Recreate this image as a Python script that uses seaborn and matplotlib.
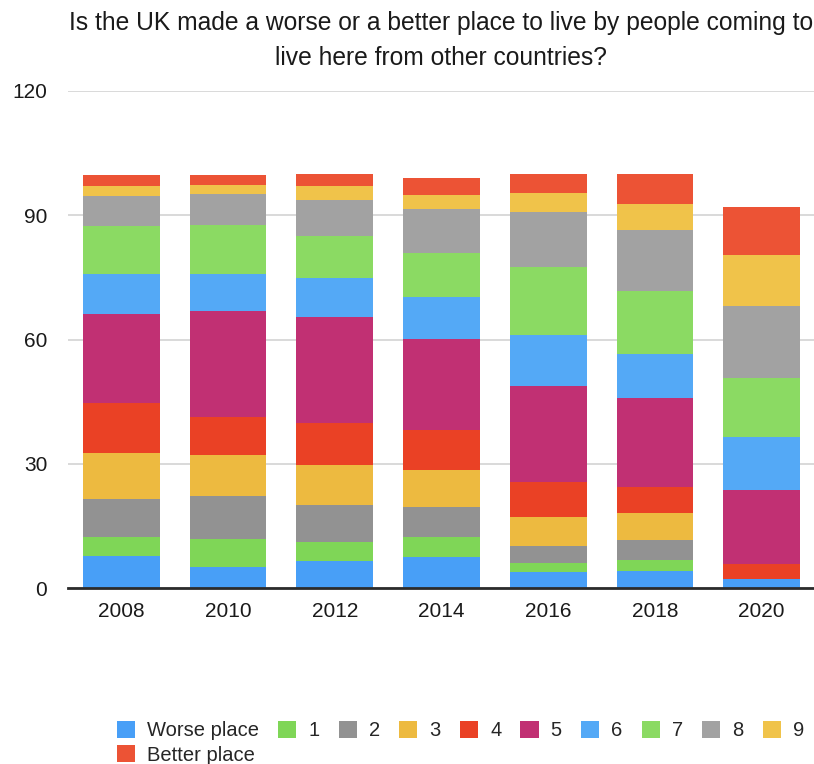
import matplotlib
matplotlib.use("Agg")
import matplotlib.pyplot as plt
from matplotlib.patches import Patch
import seaborn as sns
import pandas as pd

years = ["2008", "2010", "2012", "2014", "2016", "2018", "2020"]
categories = ["Worse place", "1", "2", "3", "4", "5", "6", "7", "8", "9", "Better place"]

worse_place = [7.8, 5.0, 6.4, 7.6, 3.9, 4.1, 2.1]
s1 = [4.5, 6.9, 4.6, 4.7, 2.2, 2.7, 0.0]
s2 = [9.2, 10.2, 9.0, 7.2, 4.0, 4.8, 0.0]
s3 = [11.0, 10.1, 9.7, 8.9, 7.0, 6.5, 0.0]
s4 = [12.1, 9.2, 10.2, 9.8, 8.6, 6.4, 3.8]
s5 = [21.6, 25.5, 25.6, 21.9, 23.0, 21.3, 17.8]
s6 = [9.7, 9.0, 9.3, 10.1, 12.5, 10.7, 12.7]
s7 = [11.4, 11.8, 10.2, 10.8, 16.4, 15.3, 14.4]
s8 = [7.3, 7.5, 8.7, 10.4, 13.1, 14.7, 17.4]
s9 = [2.4, 2.2, 3.3, 3.4, 4.7, 6.1, 12.3]
better_place = [2.6, 2.2, 3.0, 4.1, 4.6, 7.4, 11.5]

series = [worse_place, s1, s2, s3, s4, s5, s6, s7, s8, s9, better_place]
colors = ["#489FF7", "#7FD657", "#929292", "#EDBA40", "#EA4125", "#C13073",
          "#54A9F6", "#8BDA63", "#A2A2A2", "#F0C34A", "#EC5335"]
palette = dict(zip(categories, colors))

title = "Is the UK made a worse or a better place to live by people coming to\nlive here from other countries?"

rows = []
for cat, vals in zip(categories, series):
    for i, v in enumerate(vals):
        rows.append({"pos": i, "category": cat, "value": v})
df = pd.DataFrame(rows)

sns.set_theme(style="white")
plt.rcParams["font.family"] = ["Liberation Sans", "DejaVu Sans"]

fig = plt.figure(figsize=(8.14, 7.64), dpi=100)
ax = fig.add_axes([68 / 814, 1 - 588 / 764, (815 - 68) / 814, (588 - 91) / 764])

sns.histplot(data=df, x="pos", weights="value", hue="category",
             hue_order=categories[::-1], palette=palette, multiple="stack",
             discrete=True, shrink=0.72, linewidth=0, alpha=1, legend=False, ax=ax)

ax.set_xlim(-0.5, len(years) - 0.5)
ax.set_ylim(0, 120)
ax.set_yticks([0, 30, 60, 90, 120])
ax.set_xticks(range(len(years)))
ax.set_xticklabels(years)
ax.set_xlabel("")
ax.set_ylabel("")
ax.grid(axis="y", color="#D9D9D9", linewidth=1.4)
ax.grid(axis="x", visible=False)
ax.set_axisbelow(True)
for sp in ["top", "right", "left"]:
    ax.spines[sp].set_visible(False)
ax.spines["bottom"].set_color("#2B2B2B")
ax.spines["bottom"].set_linewidth(2)
ax.spines["bottom"].set_zorder(5)
ax.tick_params(axis="y", length=0, pad=15, labelsize=15, labelcolor="#1A1A1A")
ax.tick_params(axis="x", length=0, pad=10, labelsize=15, labelcolor="#1A1A1A")

fig.text(441 / 814, 1 - 40.5 / 764, title, ha="center", va="center",
         fontsize=17.7, linespacing=1.55, color="#1A1A1A")

order = [0, 10] + list(range(1, 10))
handles = [Patch(facecolor=colors[i], edgecolor="none") for i in order]
labels = [categories[i] for i in order]
fig.legend(handles, labels, ncol=10, loc="upper left",
           bbox_to_anchor=(117 / 814, 1 - 721 / 764), frameon=False,
           fontsize=14.5, handlelength=0.9, handleheight=0.9,
           handletextpad=0.6, columnspacing=0.95, labelspacing=0.25,
           borderpad=0, borderaxespad=0)

fig.savefig("out.png", dpi=100)
